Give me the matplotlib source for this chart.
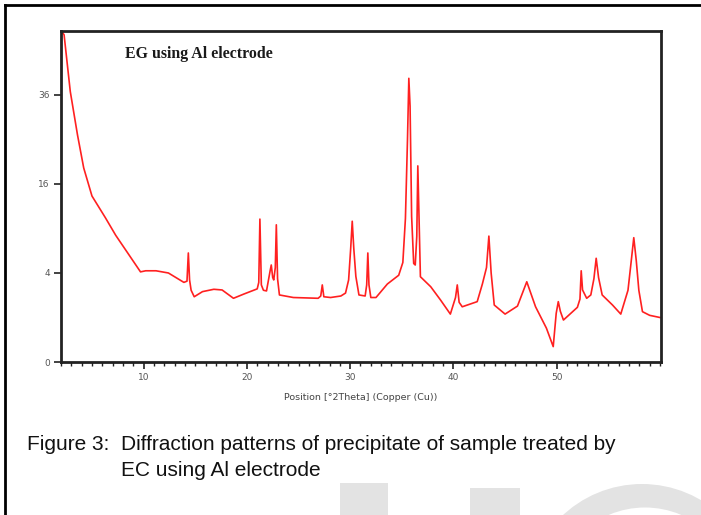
import numpy as np
import matplotlib
matplotlib.use("Agg")
import matplotlib.pyplot as plt
from matplotlib.lines import Line2D
from matplotlib.patches import Rectangle, Ellipse
from matplotlib.ticker import FixedLocator, MultipleLocator

# XRD trace: 2theta position and counts
two_theta = [2.1, 2.3, 2.9, 3.6, 4.2, 5.0, 6.3, 7.3, 8.4, 9.7, 10.2, 11.2, 12.4, 13.9, 14.2, 14.33, 14.45, 14.6, 14.9,
             15.7, 16.8, 17.6, 18.7, 19.7, 21.0, 21.15, 21.26, 21.4, 21.6, 21.9, 22.25, 22.36, 22.5, 22.6, 22.75, 22.85,
             22.97, 23.15, 24.5, 26.9, 27.15, 27.3, 27.45, 28.1, 29.1, 29.55, 29.85, 30.05, 30.2, 30.35, 30.55, 30.85,
             31.45, 31.6, 31.71, 31.82, 32.0, 32.5, 33.6, 34.7, 35.1, 35.35, 35.55, 35.68, 35.8, 35.95, 36.15, 36.3,
             36.45, 36.55, 36.65, 36.8, 37.8, 38.75, 39.7, 40.2, 40.37, 40.55, 40.85, 42.3, 42.8, 43.2, 43.43, 43.65,
             43.95, 45.0, 46.2, 47.1, 47.95, 49.0, 49.66, 49.95, 50.15, 50.35, 50.65, 52.0, 52.25, 52.37, 52.5, 52.9,
             53.3, 53.6, 53.82, 54.05, 54.4, 55.4, 56.2, 56.9, 57.25, 57.46, 57.7, 57.95, 58.3, 59.0, 60.0]
counts = [55.0, 54.0, 36.9, 26.0, 19.0, 13.9, 10.5, 8.1, 6.1, 4.1, 4.2, 4.2, 4.0, 3.2, 3.3, 6.0, 3.4, 2.6, 2.15,
          2.5, 2.67, 2.62, 2.05, 2.33, 2.7, 3.2, 10.3, 3.0, 2.6, 2.55, 4.2, 4.75, 3.6, 3.4, 4.5, 9.5,
          3.5, 2.27, 2.1, 2.05, 2.2, 3.0, 2.15, 2.1, 2.2, 2.4, 3.4, 6.5, 10.0, 6.5, 3.7, 2.27,
          2.2, 3.0, 6.0, 3.0, 2.1, 2.1, 3.07, 3.8, 5.0, 10.4, 25.0, 40.6, 33.0, 10.7, 4.9, 4.75,
          8.0, 19.4, 11.7, 3.67, 2.86, 1.94, 1.16, 2.1, 3.0, 1.8, 1.54, 1.84, 3.07, 4.5, 8.0, 4.0,
          1.64, 1.16, 1.58, 3.25, 1.54, 0.58, 0.12, 1.2, 1.84, 1.3, 0.89, 1.51, 2.0, 4.2, 2.62, 2.05,
          2.27, 3.5, 5.43, 3.6, 2.27, 1.64, 1.16, 2.6, 5.5, 7.8, 5.2, 2.6, 1.28, 1.1, 1.0]

y_ticks = [0, 4, 16, 36]
x_ticks = [10, 20, 30, 40, 50]

W, H = 701, 515
fig = plt.figure(figsize=(W / 100, H / 100), dpi=100)
ax = fig.add_axes([0.087, 0.297, 0.856, 0.643])

ax.plot(two_theta, counts, color="#ff2020", linewidth=1.2)

ax.set_yscale("function", functions=(lambda v: np.sqrt(np.clip(v, 0, None)), lambda v: v ** 2))
ax.set_xlim(2, 60.1)
ax.set_ylim(0, 55.3)

ax.yaxis.set_major_locator(FixedLocator(y_ticks))
ax.yaxis.set_minor_locator(FixedLocator([]))
ax.set_yticklabels([str(t) for t in y_ticks])
ax.xaxis.set_major_locator(FixedLocator(x_ticks))
ax.xaxis.set_minor_locator(MultipleLocator(1))

ax.tick_params(axis="both", which="major", direction="out", length=5, width=1.2, color="#222222",
               labelsize=6.5, labelcolor="#555555", pad=3)
ax.tick_params(axis="x", which="minor", direction="out", length=3, width=1.0, color="#222222")
for s in ax.spines.values():
    s.set_linewidth(2)
    s.set_color("#222222")

ax.set_xlabel("Position [\u00b02Theta] (Copper (Cu))", fontsize=6.8, color="#444444", labelpad=8)
ax.text(0.106, 0.93, "EG using Al electrode", transform=ax.transAxes, fontsize=11.4,
        fontweight="bold", family="Liberation Serif", color="#1a1a1a", va="center")

# caption
cap = dict(fontsize=15, family="Liberation Sans", color="#111111", va="center")
fig.text(27 / W, 1 - 445 / H, "Figure 3:", **cap)
fig.text(121 / W, 1 - 445 / H, "Diffraction patterns of precipitate of sample treated by", **cap)
fig.text(121 / W, 1 - 471 / H, "EC using Al electrode", **cap)

# light grey watermark shapes cut by the bottom edge
wm = "#e3e3e3"
fig.add_artist(Rectangle((340 / W, 0), 48 / W, (H - 483) / H, transform=fig.transFigure,
                         facecolor=wm, edgecolor="none", zorder=-5))
fig.add_artist(Rectangle((470 / W, 0), 50 / W, (H - 488) / H, transform=fig.transFigure,
                         facecolor=wm, edgecolor="none", zorder=-5))
fig.add_artist(Ellipse((642 / W, 1 - 600 / H), 232 / W, 232 / H, transform=fig.transFigure,
                       facecolor=wm, edgecolor="none", zorder=-5))
fig.add_artist(Ellipse((645 / W, 1 - 600 / H), 185 / W, 185 / H, transform=fig.transFigure,
                       facecolor="white", edgecolor="none", zorder=-4))

# outer frame
fig.add_artist(Line2D([5 / W, 1.0], [1 - 5 / H, 1 - 5 / H], color="black", linewidth=2,
                      transform=fig.transFigure))
fig.add_artist(Line2D([5 / W, 5 / W], [1 - 5 / H, 0], color="black", linewidth=2,
                      transform=fig.transFigure))

fig.savefig("out.png", dpi=100)
